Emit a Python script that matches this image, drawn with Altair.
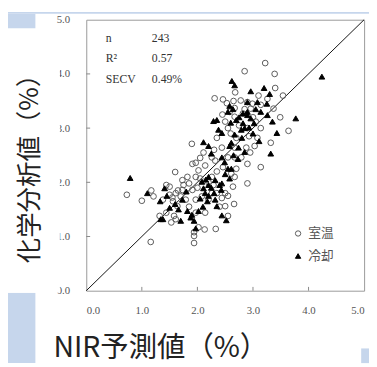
import altair as alt
import pandas as pd

# ---- data ----
circle_x = [3.22, 2.85, 3.39, 3.40, 3.54, 2.68, 2.31, 2.46, 2.53, 2.78, 2.67, 2.99, 3.14, 3.37, 3.49,
            3.64, 3.32, 3.14, 2.90, 2.64, 2.66, 1.90, 1.91, 1.97, 1.60, 0.73, 1.00, 1.17, 1.21, 1.16,
            1.94, 1.94, 1.94, 2.13, 2.33, 2.02, 2.67, 2.88, 3.03, 2.90, 2.79, 2.35, 2.11, 2.14, 2.26,
            2.29, 2.44, 2.50, 1.73, 1.82, 1.85, 1.73, 1.50, 1.44, 1.50, 1.56, 1.64, 1.44, 1.53, 1.58,
            1.97, 2.08, 2.20, 1.97, 2.14, 2.50, 2.55, 2.35, 3.05, 3.14, 2.93, 3.08, 2.55, 2.50, 2.67,
            2.82, 2.90, 2.70, 2.55, 2.61, 2.67, 2.46, 2.32, 2.02, 1.97, 1.91, 1.79, 1.70, 1.61, 1.38,
            1.32, 1.61, 2.96, 3.26, 2.90, 2.58, 2.44, 2.26, 2.05, 2.26, 2.67,
            2.05, 2.35, 2.60, 2.75, 2.85, 3.00, 2.45, 2.20, 1.85, 1.75, 1.65, 2.40, 2.55, 2.95, 3.10,
            2.65, 2.30, 1.55, 2.00, 2.70]
circle_y = [4.20, 4.05, 4.00, 3.74, 3.60, 3.66, 3.55, 3.53, 3.46, 3.51, 3.37, 3.45, 3.43, 3.36, 3.20,
            2.95, 2.73, 2.28, 1.98, 1.92, 1.60, 2.71, 2.34, 2.36, 2.19, 1.77, 1.66, 1.85, 1.74, 0.90,
            1.08, 1.01, 0.88, 1.13, 1.14, 1.17, 2.64, 2.64, 2.67, 2.34, 2.46, 2.82, 2.55, 2.31, 2.10,
            1.95, 1.71, 1.80, 2.04, 2.10, 1.98, 1.86, 1.92, 1.95, 1.77, 1.65, 1.56, 1.44, 1.26, 1.38,
            1.68, 1.74, 1.68, 1.44, 1.44, 1.56, 1.38, 1.80, 3.12, 3.00, 2.85, 2.82, 3.00, 3.12, 3.21,
            3.27, 3.00, 2.82, 2.46, 2.16, 2.10, 2.28, 2.40, 2.22, 2.10, 1.86, 1.68, 1.74, 1.80, 1.68,
            1.38, 1.32, 3.36, 3.54, 3.48, 3.30, 2.64, 2.46, 2.07, 1.80, 2.46,
            2.45, 2.20, 2.90, 3.05, 3.35, 3.20, 3.25, 2.00, 1.55, 1.95, 1.85, 1.55, 1.75, 2.55, 3.60,
            3.50, 2.60, 1.72, 1.90, 2.25]
tri_x = [4.24, 2.62, 2.67, 2.96, 3.20, 3.30, 3.77, 3.43, 3.32, 2.35, 2.29, 2.44, 2.11, 2.20, 2.25,
         0.79, 1.10, 1.33, 1.41, 1.38, 1.34, 1.70, 1.88, 1.94, 1.97, 2.02, 2.18, 2.35, 2.44, 2.52,
         2.20, 2.08, 2.11, 2.20, 2.32, 2.44, 2.43, 2.32, 2.14, 1.80, 1.73, 1.66, 1.82, 1.50, 2.55,
         2.61, 2.58, 2.49, 2.61, 2.58, 2.74, 2.73, 2.67, 2.80, 2.79, 2.93, 3.02, 2.82, 2.96, 2.90,
         2.70, 2.55, 2.64, 2.58, 2.90, 3.08, 3.25, 3.14, 3.26, 3.35, 3.11, 2.85, 2.38, 2.44, 2.82,
         2.25, 2.15, 2.30, 2.75, 2.85, 3.05, 2.60, 2.90, 2.20, 2.05, 1.60, 1.45, 2.50, 2.65, 3.00,
         2.40, 1.90, 2.10]
tri_y = [3.95, 3.87, 3.79, 3.68, 3.74, 3.63, 3.18, 2.91, 2.53, 3.15, 3.13, 2.91, 2.74, 2.67, 2.53,
         2.08, 1.80, 1.65, 1.89, 1.32, 1.32, 1.29, 1.35, 1.29, 1.15, 1.47, 1.65, 1.56, 1.39, 1.30,
         2.10, 2.01, 1.89, 1.95, 2.04, 1.98, 1.86, 1.68, 1.80, 1.83, 1.68, 1.50, 1.47, 1.53, 2.25,
         2.25, 2.07, 2.37, 2.73, 2.67, 2.64, 2.43, 2.88, 2.82, 2.97, 3.01, 3.09, 3.09, 3.18, 3.24,
         3.15, 3.30, 3.35, 3.41, 3.48, 3.48, 3.45, 3.30, 3.24, 3.12, 2.76, 2.56, 2.97, 2.46, 3.27,
         1.90, 2.05, 1.80, 3.20, 3.00, 3.35, 3.10, 3.30, 1.75, 1.70, 1.60, 1.75, 2.15, 2.50, 2.90,
         1.95, 1.40, 1.55]

groups = ["室温", "冷却"]
ticks = [0, 1, 2, 3, 4, 5]
inner_ticks = [1, 2, 3, 4]
line_x = [0, 5]
line_y = [0, 5]
stat_names = ["n", "R²", "SECV"]
stat_values = ["243", "0.57", "0.49%"]
stat_row_y = [4.66, 4.30, 3.90]

pts = pd.DataFrame({
    "x": circle_x + tri_x,
    "y": circle_y + tri_y,
    "g": [groups[0]] * len(circle_x) + [groups[1]] * len(tri_x),
})
diag = pd.DataFrame({"x": line_x, "y": line_y})
stats = pd.DataFrame({"name": stat_names, "val": stat_values, "y": stat_row_y})
xt = pd.DataFrame({"t": inner_ticks})

BLUE = "#c6d6ec"
SERIF = "Liberation Serif"
JP = "Noto Sans CJK JP"

xs = alt.Scale(domain=[0, 5], nice=False)
ys = alt.Scale(domain=[0, 5], nice=False)

one = pd.DataFrame({"a": [0]})


def box(x, x2, y, y2, color):
    return alt.Chart(one).mark_rect(color=color).encode(
        x=alt.value(x), x2=alt.value(x2), y=alt.value(y), y2=alt.value(y2))


leg = dict(title=None, orient="none", legendX=210, legendY=212)

points = alt.Chart(pts).mark_point(size=34, strokeWidth=1, opacity=1).encode(
    x=alt.X("x:Q", scale=xs, axis=alt.Axis(
        values=ticks, format=".1f", grid=False, ticks=False, domain=False,
        labelFont=SERIF, labelFontSize=11, labelColor="#555", labelPadding=14,
        title="NIR予測値（%）", titleFont=JP, titleFontSize=29, titleFontWeight="normal",
        titleColor="#222", titleX=-34, titleY=67, titleAlign="left", titleBaseline="alphabetic")),
    y=alt.Y("y:Q", scale=ys, axis=alt.Axis(
        values=ticks, format=".1f", grid=False, ticks=False, domain=False,
        labelFont=SERIF, labelFontSize=11, labelColor="#555", labelPadding=17, title=None)),
    shape=alt.Shape("g:N", scale=alt.Scale(domain=groups, range=["circle", "triangle-up"]),
                    legend=alt.Legend(labelFont=JP, labelFontSize=13, labelColor="#555",
                                      symbolSize=30, rowPadding=9, symbolStrokeWidth=1, **leg)),
    fill=alt.Fill("g:N", scale=alt.Scale(domain=groups, range=["transparent", "#000"]),
                  legend=alt.Legend(**leg)),
    stroke=alt.Stroke("g:N", scale=alt.Scale(domain=groups, range=["#5a5a5a", "#000"]),
                      legend=alt.Legend(**leg)),
)

diag_line = alt.Chart(diag).mark_line(color="#111", strokeWidth=1).encode(
    x=alt.X("x:Q", scale=xs), y=alt.Y("y:Q", scale=ys))

xticks = alt.Chart(xt).mark_rule(color="#888").encode(
    x=alt.X("t:Q", scale=xs), y=alt.datum(0), y2=alt.datum(0.07))
yticks = alt.Chart(xt).mark_rule(color="#888").encode(
    y=alt.Y("t:Q", scale=ys), x=alt.datum(0), x2=alt.datum(0.07))

names = alt.Chart(stats).mark_text(font=SERIF, fontSize=12, color="#333", align="left",
                                   baseline="middle").encode(
    x=alt.datum(0.35), y=alt.Y("y:Q", scale=ys), text="name:N")
vals = alt.Chart(stats).mark_text(font=SERIF, fontSize=12, color="#333", align="left",
                                  baseline="middle").encode(
    x=alt.datum(1.18), y=alt.Y("y:Q", scale=ys), text="val:N")

ytitle = alt.Chart(one).mark_text(text="化学分析値（%）", font=JP, fontSize=26, color="#222",
                                  angle=270, align="center", baseline="middle").encode(
    x=alt.value(-57), y=alt.value(146))

chart = alt.layer(
    box(-80, 289, -8, -6, BLUE),
    box(-80, -52, -6, 9, BLUE),
    box(-80, -52, 279, 351, BLUE),
    box(281, 289, 336, 351, BLUE),
    box(-80, -27, 9, 279, "white"),
    ytitle,
    diag_line,
    points,
    xticks,
    yticks,
    names,
    vals,
).properties(
    width=284, height=277,
    autosize=alt.AutoSizeParams(type="none"),
    padding={"left": 80, "top": 8, "right": 5, "bottom": 74},
    background="white",
).configure_view(stroke="#999", strokeWidth=1)

chart.save("out.html", embed_options={"renderer": "svg", "actions": False})
